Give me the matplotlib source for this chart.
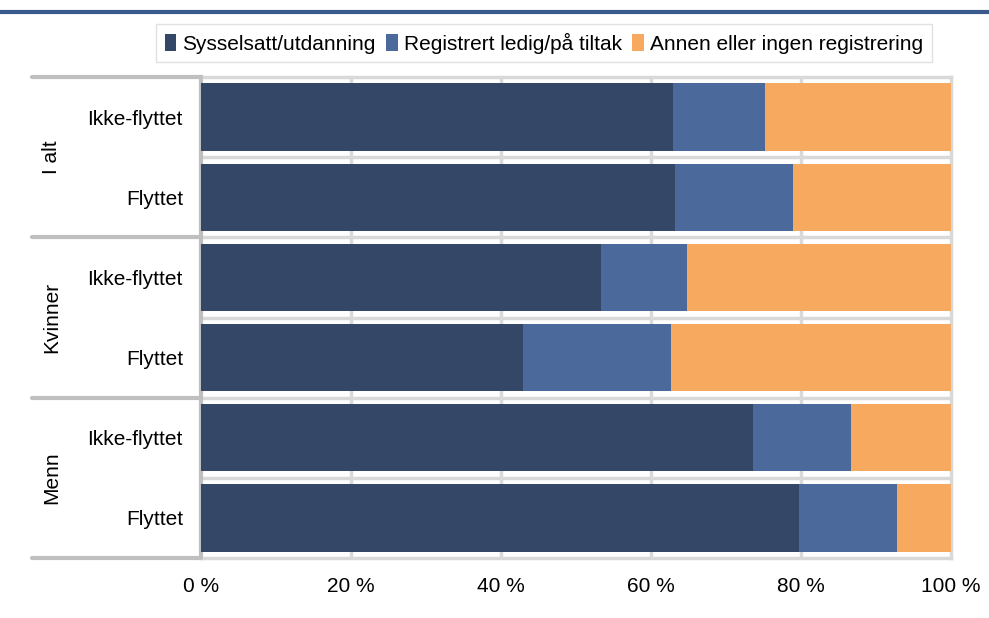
import numpy as np
import matplotlib.pyplot as plt
from matplotlib.lines import Line2D

plt.rcParams['font.family'] = ['Liberation Sans', 'DejaVu Sans']

# Data (shares in %)
groups = ["I alt", "Kvinner", "Menn"]
rows = ["Ikke-flyttet", "Flyttet"] * 3
series = ["Sysselsatt/utdanning", "Registrert ledig/på tiltak", "Annen eller ingen registrering"]
sysselsatt = [62.9, 63.2, 53.3, 42.9, 73.6, 79.7]
ledig = [12.3, 15.7, 11.5, 19.8, 13.1, 13.1]
annen = [24.8, 21.1, 35.2, 37.3, 13.3, 7.2]
colors = ["#344766", "#4b6a9b", "#f6a95f"]

FS = 15
W, H = 989, 618
fig = plt.figure(figsize=(W / 100, H / 100), dpi=100)
ax = fig.add_axes([201 / W, 1 - 558 / H, 750 / W, 481 / H])

y = np.arange(len(rows))
left = np.zeros(len(rows))
for vals, name, c in zip([sysselsatt, ledig, annen], series, colors):
    ax.barh(y, vals, left=left, height=0.84, color=c, label=name, zorder=3)
    left += np.array(vals)

ax.set_xlim(0, 100)
ax.set_ylim(len(rows) - 0.5, -0.5)
ax.set_xticks([0, 20, 40, 60, 80, 100])
ax.set_xticklabels([f"{v} %" for v in [0, 20, 40, 60, 80, 100]], fontsize=FS)
ax.set_yticks(y)
ax.set_yticklabels(rows, fontsize=FS)
ax.tick_params(axis='both', length=0)
ax.tick_params(axis='y', pad=13)
ax.tick_params(axis='x', pad=14)

grid_c = "#d9d9d9"
for xv in [20, 40, 60, 80]:
    ax.axvline(xv, color=grid_c, lw=2.5, zorder=1)
for yv in np.arange(0.5, len(rows) - 1, 1):
    ax.axhline(yv, color=grid_c, lw=2.5, zorder=1)

for side in ['top', 'right', 'bottom']:
    ax.spines[side].set_color(grid_c)
    ax.spines[side].set_linewidth(2.5)
ax.spines['left'].set_color("#bfbfbf")
ax.spines['left'].set_linewidth(3)

# group separators and labels
tr = ax.get_yaxis_transform()
for yv in [-0.5, 1.5, 3.5, 5.5]:
    ax.plot([-0.225, 0], [yv, yv], color="#bfbfbf", lw=3, transform=tr,
            clip_on=False, solid_capstyle='round', zorder=4)
for i, g in enumerate(groups):
    ax.text(-0.199, 2 * i + 0.5, g, rotation=90, ha='center', va='center',
            fontsize=FS, transform=tr)

fig.legend(loc='center', bbox_to_anchor=(544 / W, 1 - 43 / H), ncol=3,
           fontsize=FS, frameon=True, fancybox=False, edgecolor=grid_c,
           handlelength=0.55, handleheight=0.85, handletextpad=0.3,
           columnspacing=0.5, borderpad=0.4)

fig.add_artist(Line2D([0, 1], [1 - 12 / H, 1 - 12 / H], color="#3b5a8c", lw=3))

fig.savefig("out.png", dpi=100)
